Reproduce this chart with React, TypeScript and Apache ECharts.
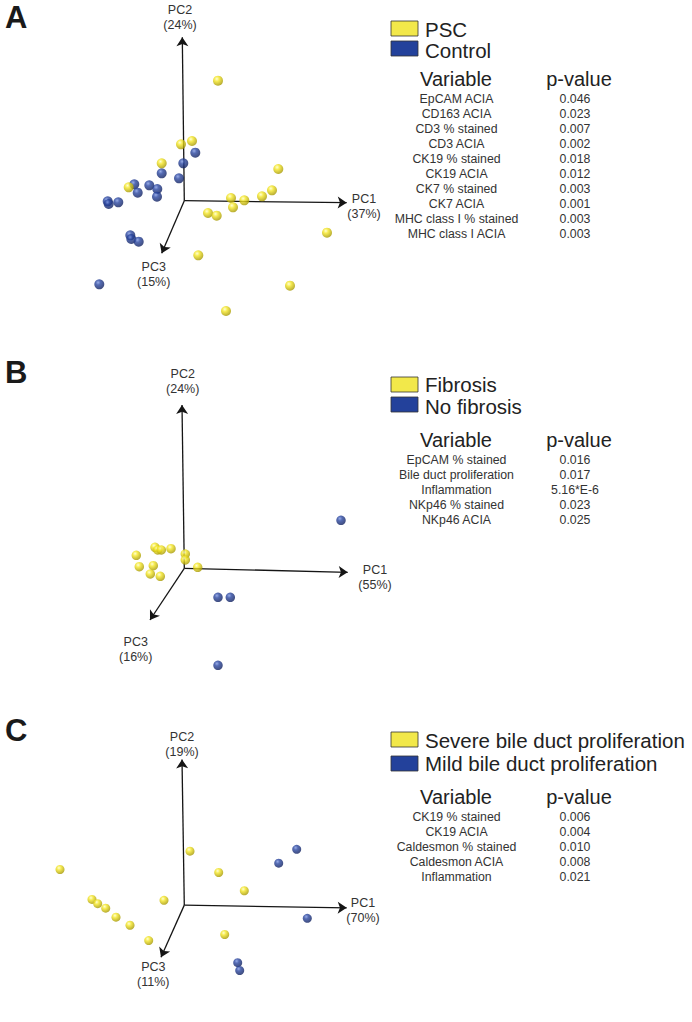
import React, { useEffect, useRef } from "react";
import * as echarts from "echarts";

// ---------- DATA (projected PCA coordinates, origin = 0,0) ----------
const panelLetters = ["A", "B", "C"];

const aPSC = [
  [33.7, 120.0], [-3.3, 56.4], [7.7, 59.7], [-22.6, 37.4], [-55.6, 13.4],
  [94.0, 31.7], [87.7, 10.4], [77.7, 4.4], [46.7, 2.7], [60.0, 0.4],
  [48.7, -6.6], [23.7, -12.3], [32.4, -15.0], [142.7, -32.0], [14.0, -54.6],
  [105.7, -85.0], [41.7, -110.3],
];
const aControl = [
  [11.0, 48.0], [-1.0, 37.4], [-22.6, 27.4], [-5.3, 22.4], [-50.0, 16.4],
  [-35.0, 15.4], [-27.0, 11.7], [-46.6, 8.0], [-27.3, 4.0], [-76.6, -0.6],
  [-75.6, -3.3], [-66.0, -1.6], [-54.0, -34.6], [-53.0, -38.3], [-45.6, -41.0],
  [-85.0, -83.6],
];
const aAxisEnds = [[162.4, -2], [-2, 163.4], [-22.6, -52.6]];
const aAxisNames = ["PC1\n(37%)", "PC2\n(24%)", "PC3\n(15%)"];
const aAxisLabelPos = [[179.7, -6], [-4.3, 183.7], [-30.6, -73.6]];
const aLegend = ["PSC", "Control"];
const aVariables = [
  "EpCAM ACIA", "CD163 ACIA", "CD3 % stained", "CD3 ACIA", "CK19 % stained",
  "CK19 ACIA", "CK7 % stained", "CK7 ACIA", "MHC class I % stained", "MHC class I ACIA",
];
const aPValues = ["0.046", "0.023", "0.007", "0.002", "0.018", "0.012", "0.003", "0.001", "0.003", "0.003"];

const bFibrosis = [
  [-48.0, 13.0], [-29.3, 21.0], [-26.6, 18.3], [-23.0, 18.3], [-13.3, 19.6],
  [1.0, 14.3], [1.0, 8.3], [-45.0, 1.6], [-31.0, 2.6], [-34.0, -5.7],
  [-24.0, -8.0], [13.4, 1.0],
];
const bNoFibrosis = [[156.7, 48.0], [33.7, -29.0], [46.0, -29.0], [33.7, -97.0]];
const bAxisEnds = [[163.4, -4], [-2.3, 163.3], [-34.3, -51.7]];
const bAxisNames = ["PC1\n(55%)", "PC2\n(24%)", "PC3\n(16%)"];
const bAxisLabelPos = [[190.7, -8.7], [-1.6, 187], [-48.6, -81.4]];
const bLegend = ["Fibrosis", "No fibrosis"];
const bVariables = ["EpCAM % stained", "Bile duct proliferation", "Inflammation", "NKp46 % stained", "NKp46 ACIA"];
const bPValues = ["0.016", "0.017", "5.16*E-6", "0.023", "0.025"];

const cSevere = [
  [-124.3, 39.6], [5.7, 60.0], [34.4, 36.3], [60.0, 16.0], [-20.3, 5.3],
  [-92.3, 6.3], [-86.6, 1.6], [-78.6, -3.4], [-68.3, -13.4], [-54.3, -22.4],
  [-35.6, -39.4], [40.4, -32.7],
];
const cMild = [[112.4, 62.0], [94.4, 46.6], [123.0, -14.7], [53.4, -64.0], [55.4, -72.7]];
const cAxisEnds = [[162.4, -3], [-2.3, 162], [-23.3, -58]];
const cAxisNames = ["PC1\n(70%)", "PC2\n(19%)", "PC3\n(11%)"];
const cAxisLabelPos = [[178.7, -5.5], [-2.3, 178.5], [-31, -76.8]];
const cLegend = ["Severe bile duct proliferation", "Mild bile duct proliferation"];
const cVariables = ["CK19 % stained", "CK19 ACIA", "Caldesmon % stained", "Caldesmon ACIA", "Inflammation"];
const cPValues = ["0.006", "0.004", "0.010", "0.008", "0.021"];

// ---------- LAYOUT / STYLE ----------
const FONT = "'Liberation Sans', Arial, Helvetica, sans-serif";
const ORIGIN_X = 184.3;
const ORIGINS_Y = [200.7, 568.3, 925.3];
const X_MIN = -130, X_MAX = 220, Y_MIN = -130, Y_MAX = 200;
const LETTER_Y = [18, 373, 731];
const LEGEND_BOX_Y = [[21, 41], [377, 397], [732, 756]];
const LEGEND_TEXT_Y = [[29, 50], [384.5, 406], [740, 763]];
const HEADER_Y = [79, 440, 797];
const ROW_START_Y = [99, 460, 817];
const SYMBOL_SIZES = [10, 9.5, 9];

const yellowBall = {
  type: "radial", x: 0.38, y: 0.32, r: 0.7,
  colorStops: [
    { offset: 0, color: "#ffffc8" },
    { offset: 0.35, color: "#f4e626" },
    { offset: 1, color: "#a49600" },
  ],
};
const blueBall = {
  type: "radial", x: 0.38, y: 0.32, r: 0.7,
  colorStops: [
    { offset: 0, color: "#7d96e0" },
    { offset: 0.35, color: "#2a46a0" },
    { offset: 1, color: "#0f1f5c" },
  ],
};

const panels = [
  { yellow: aPSC, blue: aControl, ends: aAxisEnds, names: aAxisNames, namePos: aAxisLabelPos, legend: aLegend, vars: aVariables, pvals: aPValues },
  { yellow: bFibrosis, blue: bNoFibrosis, ends: bAxisEnds, names: bAxisNames, namePos: bAxisLabelPos, legend: bLegend, vars: bVariables, pvals: bPValues },
  { yellow: cSevere, blue: cMild, ends: cAxisEnds, names: cAxisNames, namePos: cAxisLabelPos, legend: cLegend, vars: cVariables, pvals: cPValues },
];

function buildOption() {
  const grid: any[] = [];
  const xAxis: any[] = [];
  const yAxis: any[] = [];
  const series: any[] = [];
  const graphic: any[] = [];

  panels.forEach((p, i) => {
    const oy = ORIGINS_Y[i];
    grid.push({
      left: ORIGIN_X + X_MIN,
      top: oy - Y_MAX,
      width: X_MAX - X_MIN,
      height: Y_MAX - Y_MIN,
      containLabel: false,
    });
    xAxis.push({ type: "value", gridIndex: i, min: X_MIN, max: X_MAX, show: false });
    yAxis.push({ type: "value", gridIndex: i, min: Y_MIN, max: Y_MAX, show: false });

    series.push({
      type: "lines",
      coordinateSystem: "cartesian2d",
      xAxisIndex: i,
      yAxisIndex: i,
      z: 1,
      symbol: ["none", "arrow"],
      symbolSize: [6, 9],
      lineStyle: { color: "#151515", width: 1.3, opacity: 1, curveness: 0 },
      data: p.ends.map((e) => ({ coords: [[0, 0], e] })),
    });

    series.push({
      type: "scatter",
      name: p.legend[1],
      xAxisIndex: i,
      yAxisIndex: i,
      z: 3,
      clip: false,
      symbolSize: SYMBOL_SIZES[i],
      itemStyle: { color: blueBall },
      data: p.blue,
    });
    series.push({
      type: "scatter",
      name: p.legend[0],
      xAxisIndex: i,
      yAxisIndex: i,
      z: 4,
      clip: false,
      symbolSize: SYMBOL_SIZES[i],
      itemStyle: { color: yellowBall },
      data: p.yellow,
    });

    // panel letter
    graphic.push({
      type: "text",
      left: 5,
      top: LETTER_Y[i] - 16,
      style: { text: panelLetters[i], font: `bold 31px ${FONT}`, fill: "#1a1a1a" },
    });

    // legend
    const boxColors = ["#f2e84a", "#23419b"];
    [0, 1].forEach((k) => {
      graphic.push({
        type: "rect",
        shape: { x: 391, y: LEGEND_BOX_Y[i][k], width: 27, height: 15 },
        style: { fill: boxColors[k], stroke: "#333", lineWidth: 0.8 },
      });
      graphic.push({
        type: "text",
        x: 425,
        y: LEGEND_TEXT_Y[i][k],
        style: {
          text: p.legend[k],
          font: `20.5px ${FONT}`,
          fill: "#222",
          align: "left",
          verticalAlign: "middle",
        },
      });
    });

    // table header
    graphic.push({
      type: "text",
      x: 456,
      y: HEADER_Y[i],
      style: { text: "Variable", font: `20px ${FONT}`, fill: "#222", align: "center", verticalAlign: "middle" },
    });
    graphic.push({
      type: "text",
      x: 579,
      y: HEADER_Y[i],
      style: { text: "p-value", font: `20px ${FONT}`, fill: "#222", align: "center", verticalAlign: "middle" },
    });
    p.vars.forEach((v, r) => {
      graphic.push({
        type: "text",
        x: 456.5,
        y: ROW_START_Y[i] + r * 15,
        style: { text: v, font: `12.3px ${FONT}`, fill: "#333", align: "center", verticalAlign: "middle" },
      });
      graphic.push({
        type: "text",
        x: 575,
        y: ROW_START_Y[i] + r * 15,
        style: { text: p.pvals[r], font: `12.3px ${FONT}`, fill: "#333", align: "center", verticalAlign: "middle" },
      });
    });
  });

  return {
    animation: false,
    backgroundColor: "#ffffff",
    grid,
    xAxis,
    yAxis,
    series,
    graphic,
  };
}

export default function App() {
  const ref = useRef<HTMLDivElement>(null);
  useEffect(() => {
    if (!ref.current) return;
    const chart = echarts.init(ref.current, undefined, { renderer: "svg" });
    const option: any = buildOption();
    chart.setOption(option);
    // axis-name labels placed through each panel's own scales
    const extra: any[] = [];
    panels.forEach((p, i) => {
      p.namePos.forEach((pos, k) => {
        const px = chart.convertToPixel({ gridIndex: i } as any, pos) as number[];
        extra.push({
          type: "text",
          x: px[0],
          y: px[1],
          z: 5,
          style: {
            text: p.names[k],
            font: `12.5px ${FONT}`,
            lineHeight: 15,
            fill: "#333333",
            align: "center",
            verticalAlign: "middle",
          },
        });
      });
    });
    chart.setOption({ graphic: [...option.graphic, ...extra] }, { replaceMerge: ["graphic"] } as any);
    return () => chart.dispose();
  }, []);
  return (
    <div
      ref={ref}
      style={{ position: "absolute", left: 0, top: 0, width: 692, height: 1022, background: "#fff" }}
    />
  );
}
